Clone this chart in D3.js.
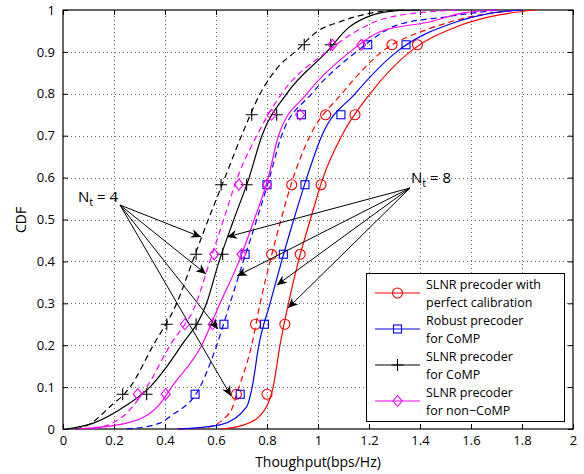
<!DOCTYPE html>
<html>
<head>
<meta charset="utf-8">
<script src="https://cdn.jsdelivr.net/npm/d3@7"></script>
<style>
body { margin: 0; background: #fff; }
text { font-family: "Open Sans", "Noto Sans", sans-serif; fill: #000; }
</style>
</head>
<body>
<svg width="584" height="474"></svg>
<script>
// tick values and labels
var xTicks = [0, 0.2, 0.4, 0.6, 0.8, 1, 1.2, 1.4, 1.6, 1.8, 2];
var xTickLabels = ['0', '0.2', '0.4', '0.6', '0.8', '1', '1.2', '1.4', '1.6', '1.8', '2'];
var yTicks = [0, 0.1, 0.2, 0.3, 0.4, 0.5, 0.6, 0.7, 0.8, 0.9, 1];
var yTickLabels = ['0', '0.1', '0.2', '0.3', '0.4', '0.5', '0.6', '0.7', '0.8', '0.9', '1'];

// CDF levels where the markers sit
var markLevels = [0.083, 0.25, 0.417, 0.583, 0.75, 0.917];

// curves: [throughput, cdf]
var redSolid = [[0.62, 0], [0.70, 0.008], [0.77, 0.03], [0.824, 0.1], [0.851, 0.2], [0.884, 0.3], [0.923, 0.4], [0.97, 0.5], [1.02, 0.6], [1.093, 0.7], [1.204, 0.8], [1.36, 0.9], [1.544, 0.96], [1.675, 0.984], [1.85, 1]];
var redDashed = [[0.45, 0], [0.563, 0.004], [0.655, 0.04], [0.69, 0.1], [0.74, 0.2], [0.773, 0.3], [0.812, 0.4], [0.855, 0.5], [0.903, 0.6], [0.969, 0.7], [1.093, 0.8], [1.25, 0.9], [1.44, 0.956], [1.57, 0.98], [1.78, 1]];
var blueSolid = [[0.45, 0], [0.616, 0.01], [0.72, 0.053], [0.742, 0.1], [0.768, 0.2], [0.812, 0.3], [0.857, 0.4], [0.905, 0.5], [0.956, 0.6], [1.015, 0.7], [1.145, 0.8], [1.308, 0.9], [1.544, 0.972], [1.675, 0.992], [1.8, 1]];
var blueDashed = [[0.25, 0], [0.38, 0.014], [0.42, 0.03], [0.537, 0.1], [0.603, 0.2], [0.655, 0.3], [0.707, 0.4], [0.76, 0.5], [0.81, 0.6], [0.857, 0.7], [0.975, 0.8], [1.15, 0.9], [1.31, 0.964], [1.505, 0.984], [1.7, 1]];
var blackSolid = [[0.015, 0], [0.12, 0.014], [0.25, 0.057], [0.341, 0.1], [0.465, 0.2], [0.563, 0.3], [0.612, 0.4], [0.67, 0.5], [0.73, 0.6], [0.78, 0.7], [0.877, 0.8], [1.034, 0.9], [1.12, 0.958], [1.204, 0.986], [1.3, 0.998], [1.4, 1]];
var blackDashed = [[0.05, 0], [0.10, 0.01], [0.184, 0.053], [0.263, 0.1], [0.354, 0.2], [0.446, 0.3], [0.508, 0.4], [0.57, 0.5], [0.635, 0.6], [0.70, 0.7], [0.773, 0.8], [0.851, 0.869], [0.91, 0.9], [1.0, 0.95], [1.086, 0.972], [1.243, 0.996], [1.35, 1]];
var magentaSolid = [[0.054, 0], [0.25, 0.014], [0.38, 0.06], [0.426, 0.1], [0.544, 0.2], [0.616, 0.3], [0.69, 0.4], [0.75, 0.5], [0.805, 0.6], [0.845, 0.7], [0.956, 0.8], [1.125, 0.9], [1.243, 0.948], [1.44, 0.972], [1.57, 0.993], [1.7, 1]];
var magentaDashed = [[0.12, 0], [0.25, 0.038], [0.328, 0.1], [0.42, 0.2], [0.522, 0.3], [0.576, 0.4], [0.63, 0.5], [0.684, 0.6], [0.76, 0.7], [0.857, 0.8], [1.034, 0.9], [1.243, 0.976], [1.44, 0.996], [1.55, 1]];

// marker throughputs at markLevels
var redSolidMarks = [0.80, 0.87, 0.93, 1.012, 1.145, 1.39];
var redDashedMarks = [0.68, 0.755, 0.818, 0.897, 1.03, 1.29];
var blueSolidMarks = [0.695, 0.79, 0.864, 0.949, 1.09, 1.345];
var blueDashedMarks = [0.518, 0.631, 0.714, 0.80, 0.935, 1.195];
var blackSolidMarks = [0.328, 0.522, 0.626, 0.72, 0.838, 1.05];
var blackDashedMarks = [0.234, 0.407, 0.522, 0.62, 0.74, 0.946];
var magentaSolidMarks = [0.403, 0.587, 0.70, 0.80, 0.93, 1.17];
var magentaDashedMarks = [0.293, 0.478, 0.593, 0.69, 0.818, 1.057];

var legendLabels = [
    ['SLNR precoder with', 'perfect calibration'],
    ['Robust precoder', 'for CoMP'],
    ['SLNR precoder', 'for CoMP'],
    ['SLNR precoder', 'for non\u2212CoMP']
];

var series = [
    { pts: redSolid, marks: redSolidMarks, color: '#ff0000', dash: null, shape: 'circle' },
    { pts: redDashed, marks: redDashedMarks, color: '#ff0000', dash: '6,4', shape: 'circle' },
    { pts: blueSolid, marks: blueSolidMarks, color: '#0000ff', dash: null, shape: 'square' },
    { pts: blueDashed, marks: blueDashedMarks, color: '#0000ff', dash: '6,4', shape: 'square' },
    { pts: blackSolid, marks: blackSolidMarks, color: '#000000', dash: null, shape: 'plus' },
    { pts: blackDashed, marks: blackDashedMarks, color: '#000000', dash: '6,4', shape: 'plus' },
    { pts: magentaSolid, marks: magentaSolidMarks, color: '#ff00ff', dash: null, shape: 'diamond' },
    { pts: magentaDashed, marks: magentaDashedMarks, color: '#ff00ff', dash: '6,4', shape: 'diamond' }
];
var legendItems = [
    { color: '#ff0000', shape: 'circle' },
    { color: '#0000ff', shape: 'square' },
    { color: '#000000', shape: 'plus' },
    { color: '#ff00ff', shape: 'diamond' }
];

var padL = 63, padT = 10, padR = 573, padB = 429;
var svg = d3.select('svg');
var x = d3.scaleLinear().domain([0, 2]).range([padL, padR]);
var y = d3.scaleLinear().domain([0, 1]).range([padB, padT]);

// grid
var grid = svg.append('g').attr('stroke', '#666').attr('stroke-width', 1).attr('stroke-dasharray', '1,3');
grid.selectAll('.gx').data(xTicks.slice(1, -1)).enter().append('line')
    .attr('x1', function (d) { return Math.round(x(d)) + 0.5; })
    .attr('x2', function (d) { return Math.round(x(d)) + 0.5; })
    .attr('y1', padB).attr('y2', padT);
grid.selectAll('.gy').data(yTicks.slice(1, -1)).enter().append('line')
    .attr('y1', function (d) { return Math.round(y(d)) + 0.5; })
    .attr('y2', function (d) { return Math.round(y(d)) + 0.5; })
    .attr('x1', padL).attr('x2', padR);

// axes
function styleAxis(g) {
    g.select('.domain').remove();
    g.selectAll('text').style('font-size', '13px').style('font-family', '"Open Sans", sans-serif');
}
svg.append('g').attr('transform', 'translate(0,' + padB + ')')
    .call(d3.axisBottom(x).tickValues(xTicks).tickFormat(function (d, i) { return xTickLabels[i]; }).tickSize(-5).tickPadding(7))
    .call(styleAxis);
svg.append('g').attr('transform', 'translate(0,' + padT + ')')
    .call(d3.axisTop(x).tickValues(xTicks).tickFormat('').tickSize(-5))
    .call(styleAxis);
svg.append('g').attr('transform', 'translate(' + padL + ',0)')
    .call(d3.axisLeft(y).tickValues(yTicks).tickFormat(function (d, i) { return yTickLabels[i]; }).tickSize(-5).tickPadding(8))
    .call(styleAxis);
svg.append('g').attr('transform', 'translate(' + padR + ',0)')
    .call(d3.axisRight(y).tickValues(yTicks).tickFormat('').tickSize(-5))
    .call(styleAxis);

svg.append('rect').attr('x', padL).attr('y', padT).attr('width', padR - padL).attr('height', padB - padT)
    .attr('fill', 'none').attr('stroke', '#000').attr('stroke-width', 1.2);

// curves
var line = d3.line()
    .x(function (d) { return x(d[0]); })
    .y(function (d) { return y(d[1]); })
    .curve(d3.curveMonotoneX);

function drawMarker(g, shape, color) {
    if (shape === 'circle') {
        g.append('circle').attr('r', 5);
    } else if (shape === 'square') {
        g.append('rect').attr('x', -4).attr('y', -4).attr('width', 8).attr('height', 8);
    } else if (shape === 'plus') {
        g.append('path').attr('d', 'M-6,0H6M0,-6V6');
    } else {
        g.append('path').attr('d', 'M0,-5.5L4.5,0L0,5.5L-4.5,0Z');
    }
    g.selectAll('*').attr('fill', 'none').attr('stroke', color).attr('stroke-width', 1.1);
}

var plot = svg.append('g');
series.forEach(function (s) {
    plot.append('path').datum(s.pts)
        .attr('d', line)
        .attr('fill', 'none')
        .attr('stroke', s.color)
        .attr('stroke-width', 1.2)
        .attr('stroke-dasharray', s.dash);
    s.marks.forEach(function (m, i) {
        var g = plot.append('g').attr('transform', 'translate(' + x(m) + ',' + y(markLevels[i]) + ')');
        drawMarker(g, s.shape, s.color);
    });
});

// annotation arrows
function arrow(x0, y0, x1, y1) {
    var a = Math.atan2(y1 - y0, x1 - x0);
    svg.append('line').attr('x1', x0).attr('y1', y0).attr('x2', x1).attr('y2', y1)
        .attr('stroke', '#000').attr('stroke-width', 1);
    svg.append('path')
        .attr('d', 'M0,0L-10,-4.5L-7,0L-10,4.5Z')
        .attr('transform', 'translate(' + x1 + ',' + y1 + ') rotate(' + (a * 180 / Math.PI) + ')')
        .attr('fill', '#000');
}
var nt4 = [120, 205];
var nt4Targets = [[201, 237], [206, 274], [218, 329], [231, 396]];
var nt8 = [410, 188];
var nt8Targets = [[227, 237], [237, 276], [277, 285], [288, 308]];
nt4Targets.forEach(function (t) { arrow(nt4[0], nt4[1], t[0], t[1]); });
nt8Targets.forEach(function (t) { arrow(nt8[0], nt8[1], t[0], t[1]); });

function ntLabel(px, py, val) {
    var t = svg.append('text').attr('x', px).attr('y', py).style('font-size', '15px');
    t.append('tspan').text('N');
    t.append('tspan').attr('dy', 4).style('font-size', '11px').text('t');
    t.append('tspan').attr('dy', -4).text(' = ' + val);
}
ntLabel(78, 202, '4');
ntLabel(411, 183, '8');

// axis titles
svg.append('text').attr('x', (padL + padR) / 2).attr('y', 467)
    .attr('text-anchor', 'middle').style('font-size', '14px').text('Thoughput(bps/Hz)');
svg.append('text').attr('transform', 'translate(26,220) rotate(-90)')
    .attr('text-anchor', 'middle').style('font-size', '14px').text('CDF');

// legend
var lg = svg.append('g');
lg.append('rect').attr('x', 366.5).attr('y', 273.5).attr('width', 198).attr('height', 148)
    .attr('fill', '#fff').attr('stroke', '#000').attr('stroke-width', 1);
var rowY = d3.scaleLinear().domain([0, 3]).range([293, 401]);
legendItems.forEach(function (it, i) {
    var cy = rowY(i);
    lg.append('line').attr('x1', 375).attr('x2', 420).attr('y1', cy).attr('y2', cy)
        .attr('stroke', it.color).attr('stroke-width', 1.2);
    var g = lg.append('g').attr('transform', 'translate(397.5,' + cy + ')');
    drawMarker(g, it.shape, it.color);
    lg.append('text').attr('x', 426).attr('y', cy - 4.5).style('font-size', '12.5px').text(legendLabels[i][0]);
    lg.append('text').attr('x', 426).attr('y', cy + 13.5).style('font-size', '12.5px').text(legendLabels[i][1]);
});
</script>
</body>
</html>
